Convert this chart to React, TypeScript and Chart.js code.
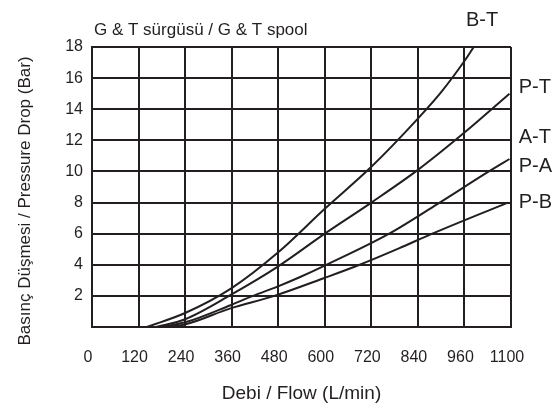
import { useEffect, useRef } from 'react';
import { Chart, registerables } from 'chart.js';

Chart.register(...registerables);

const chartTitle = 'G & T sürgüsü / G & T spool';
const xAxisTitle = 'Debi / Flow (L/min)';
const yAxisTitle = 'Basınç Düşmesi / Pressure Drop (Bar)';

const xTickLabels = ['0', '120', '240', '360', '480', '600', '720', '840', '960', '1100'];
const yTickLabels = ['', '2', '4', '6', '8', '10', '12', '14', '16', '18'];

const seriesNames = ['B-T', 'P-T', 'P-A', 'P-B'];

const btFlow = [141, 240, 360, 480, 600, 720, 840, 900, 960, 984];
const btPressure = [0, 0.9, 2.5, 4.8, 7.6, 10.3, 13.4, 15.1, 17.1, 18];

const ptFlow = [165, 240, 360, 480, 600, 720, 840, 960, 1076];
const ptPressure = [0, 0.5, 2.1, 3.9, 6, 8, 10.1, 12.5, 15];

const paFlow = [175, 240, 357, 415, 478, 535, 600, 766, 890, 1023, 1076];
const paPressure = [0, 0.3, 1.4, 2, 2.6, 3.2, 3.95, 6, 7.9, 10, 10.8];

const pbFlow = [175, 237, 357, 470, 599, 690, 791, 877, 1072];
const pbPressure = [0, 0.15, 1.2, 2, 3.15, 4, 5.05, 6, 8];

const curveLabelNames = ['B-T', 'P-T', 'A-T', 'P-A', 'P-B'];
const curveLabelFlow = [964, 1100, 1100, 1100, 1100];
const curveLabelPressure = [19.7, 15.4, 12.2, 10.3, 8.0];

const INK = '#231f20';
const FAMILY = '"Liberation Sans", Arial, Helvetica, sans-serif';

Chart.defaults.font.family = FAMILY;
Chart.defaults.color = INK;

const toPoints = (xs: number[], ys: number[]) => xs.map((x, i) => ({ x, y: ys[i] }));

const textPlugin = {
  id: 'textPlugin',
  afterDraw(chart: any) {
    const { ctx, chartArea, scales } = chart;
    ctx.save();
    ctx.fillStyle = INK;
    // chart title
    ctx.font = `17px ${FAMILY}`;
    ctx.textAlign = 'left';
    ctx.textBaseline = 'middle';
    ctx.fillText(chartTitle, chartArea.left + 2, chartArea.top - 17);
    // y axis title
    ctx.save();
    ctx.translate(25, (chartArea.top + chartArea.bottom) / 2 + 14);
    ctx.rotate(-Math.PI / 2);
    ctx.textAlign = 'center';
    ctx.textBaseline = 'middle';
    ctx.font = `17px ${FAMILY}`;
    ctx.fillText(yAxisTitle, 0, 0);
    ctx.restore();
    // curve labels
    ctx.font = `20px ${FAMILY}`;
    ctx.textAlign = 'left';
    ctx.textBaseline = 'middle';
    curveLabelNames.forEach((name, i) => {
      const px = scales.x.getPixelForValue(curveLabelFlow[i]);
      const py = scales.y.getPixelForValue(curveLabelPressure[i]);
      ctx.fillText(name, px, py);
    });
    ctx.restore();
  },
};

export default function App() {
  const canvasRef = useRef<HTMLCanvasElement | null>(null);

  useEffect(() => {
    document.body.style.margin = '0';
    const canvas = canvasRef.current;
    if (!canvas) return;
    const seriesData = [
      toPoints(btFlow, btPressure),
      toPoints(ptFlow, ptPressure),
      toPoints(paFlow, paPressure),
      toPoints(pbFlow, pbPressure),
    ];
    const chart = new Chart(canvas, {
      type: 'line',
      data: {
        datasets: seriesNames.map((name, i) => ({
          label: name,
          data: seriesData[i],
          borderColor: INK,
          backgroundColor: INK,
          borderWidth: 2,
          pointRadius: 0,
          cubicInterpolationMode: 'monotone' as const,
          fill: false,
        })),
      },
      options: {
        responsive: false,
        animation: false,
        devicePixelRatio: 1,
        layout: { padding: { left: 0, right: 48, top: 47, bottom: 0 } },
        plugins: {
          legend: { display: false },
          tooltip: { enabled: false },
          title: { display: false },
        },
        scales: {
          x: {
            type: 'linear',
            min: 0,
            max: 1080,
            ticks: {
              stepSize: 120,
              autoSkip: false,
              maxRotation: 0,
              padding: 21,
              labelOffset: -4,
              color: INK,
              font: { size: 16, family: FAMILY },
              callback: (_v: any, i: number) => xTickLabels[i],
            },
            grid: { color: INK, lineWidth: 2, drawTicks: false },
            border: { display: true, color: INK, width: 2 },
            title: {
              display: true,
              text: xAxisTitle,
              color: INK,
              font: { size: 19, family: FAMILY },
              padding: { top: 0, bottom: 3 },
            },
            afterFit: (s: any) => {
              s.height = 81;
            },
          },
          y: {
            type: 'linear',
            min: 0,
            max: 18,
            ticks: {
              stepSize: 2,
              padding: 9,
              color: INK,
              font: { size: 16, family: FAMILY },
              callback: (_v: any, i: number) => yTickLabels[i],
            },
            grid: { color: INK, lineWidth: 2, drawTicks: false },
            border: { display: true, color: INK, width: 2 },
            title: { display: false },
            afterFit: (s: any) => {
              s.width = 92;
            },
          },
        },
      },
      plugins: [textPlugin],
    });
    return () => chart.destroy();
  }, []);

  return (
    <div style={{ width: 559, height: 408, background: '#fff' }}>
      <canvas ref={canvasRef} width={559} height={408} style={{ display: 'block' }} />
    </div>
  );
}
